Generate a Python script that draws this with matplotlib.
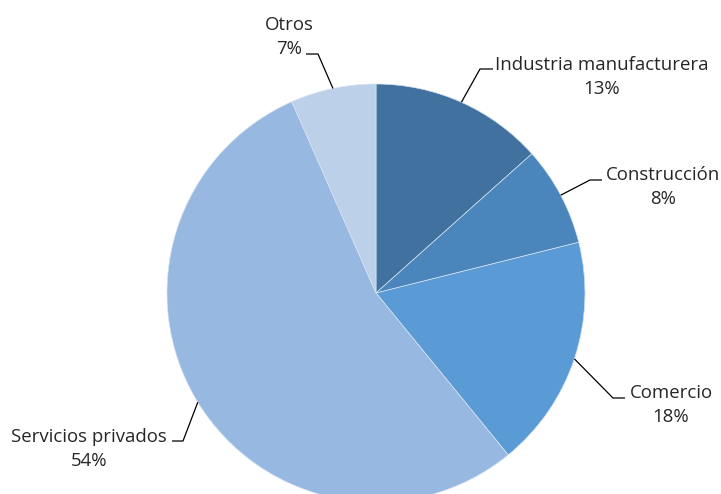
import matplotlib
matplotlib.use('Agg')
import matplotlib.pyplot as plt
import numpy as np

sectores = ["Industria manufacturera", "Construcción", "Comercio", "Servicios privados", "Otros"]
participacion = [13.4, 7.7, 18.0, 54.3, 6.6]
colores = ["#41729f", "#4a86bb", "#5b9bd5", "#97b8e0", "#bcd0ea"]

plt.rcParams['font.family'] = ['Open Sans', 'DejaVu Sans']

W, H = 721, 494
CX, CY, R = 376, 293, 209


def px(x, y):
    # pixel position -> data units (pie radius = 1)
    return (x - CX) / R, (CY - y) / R


fig = plt.figure(figsize=(W / 100, H / 100), dpi=100)
ax = fig.add_axes([0, 0, 1, 1])

wedges, _ = ax.pie(participacion, colors=colores, startangle=90, counterclock=False,
                   radius=1, wedgeprops=dict(edgecolor='#d5e2f0', linewidth=0.5))

ax.set_xlim(-CX / R, (W - CX) / R)
ax.set_ylim(-(H - CY) / R, CY / R)
ax.set_aspect('equal')
ax.axis('off')

# elbow point, end of horizontal line, text block centre (pixels)
codos = [(480, 69), (590, 180), (613, 398), (183, 441), (318, 54)]
finales = [(493, 69), (602, 180), (625, 398), (172, 441), (306, 54)]
textos = [(602, 77), (663, 187), (671, 405), (89, 449), (289, 37)]

for w, nombre, v, c, f, t in zip(wedges, sectores, participacion, codos, finales, textos):
    ang = np.deg2rad((w.theta1 + w.theta2) / 2)
    x0, y0 = np.cos(ang), np.sin(ang)
    x1, y1 = px(*c)
    x2, y2 = px(*f)
    ax.plot([x0, x1, x2], [y0, y1, y2], color='black', lw=0.9, solid_capstyle='butt')
    tx, ty = px(*t)
    ax.text(tx, ty, f"{nombre}\n{v:.0f}%", ha='center', va='center', multialignment='center',
            fontsize=13.4, color='#262626', linespacing=1.4)

fig.savefig('out.png', dpi=100)
